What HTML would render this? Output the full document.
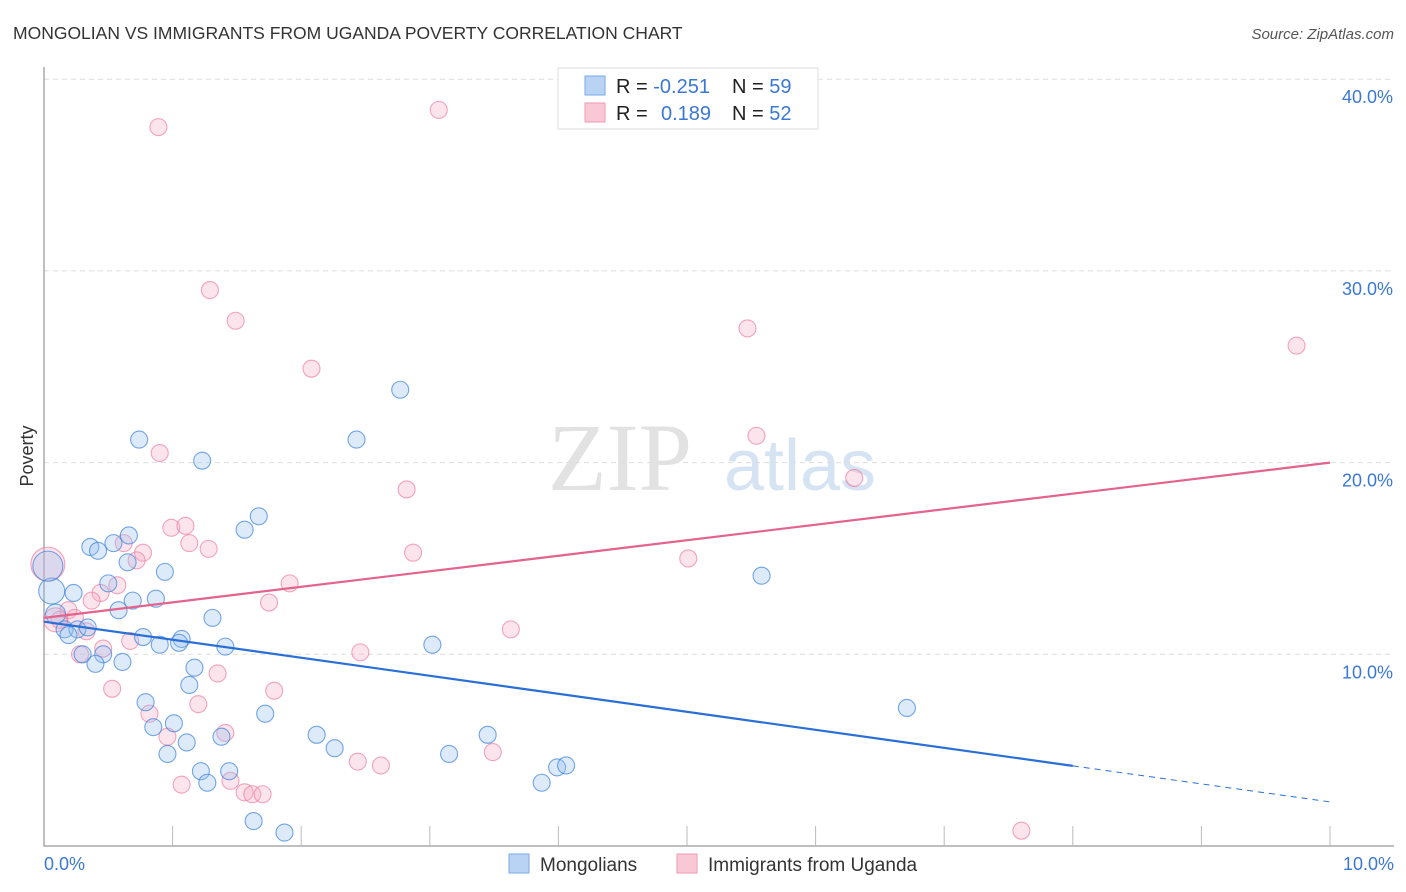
<!DOCTYPE html>
<html><head><meta charset="utf-8"><style>
body{margin:0;background:#fff;font-family:"Liberation Sans",sans-serif}
svg{display:block}
</style></head><body>
<svg id="chart" width="1406" height="892">
<text x="13" y="39" font-size="17.5" fill="#333">MONGOLIAN VS IMMIGRANTS FROM UGANDA POVERTY CORRELATION CHART</text>
<text x="1394" y="39" font-size="15" fill="#555" font-style="italic" text-anchor="end">Source: ZipAtlas.com</text>
<text x="620" y="490" font-size="96" fill="#e2e2e2" font-family="Liberation Serif,serif" text-anchor="middle">ZIP</text>
<text x="800" y="490" font-size="72" fill="#d6e3f3" text-anchor="middle">atlas</text>
<g id="grid"></g><g id="marks"></g><g id="lines"></g>
<text x="33" y="456" font-size="18" fill="#333" text-anchor="middle" transform="rotate(-90 33 456)">Poverty</text>
<text x="44" y="870" font-size="18" fill="#3b78d4">0.0%</text>
<text x="1394" y="870" font-size="18" fill="#3b78d4" text-anchor="end">10.0%</text>
<g>
<rect x="558" y="68" width="260" height="61" fill="#fff" stroke="#ddd"/>
<rect x="585" y="76" width="20" height="19" fill="#b9d3f5" stroke="#7aa8e8"/>
<rect x="585" y="103" width="20" height="19" fill="#f9c8d6" stroke="#ee9ab3"/>
<text x="616" y="93" font-size="20" fill="#222">R = <tspan fill="#3b78d4">-0.251</tspan><tspan x="732">N = </tspan><tspan fill="#3b78d4">59</tspan></text>
<text x="616" y="120" font-size="20" fill="#222">R = <tspan x="661" fill="#3b78d4">0.189</tspan><tspan x="732">N = </tspan><tspan fill="#3b78d4">52</tspan></text>
</g>
<g>
<rect x="509" y="854" width="20" height="19" fill="#b9d3f5" stroke="#7aa8e8"/>
<text x="540" y="871" font-size="19" fill="#333">Mongolians</text>
<rect x="677" y="854" width="20" height="19" fill="#f9c8d6" stroke="#ee9ab3"/>
<text x="708" y="871" font-size="19" fill="#333">Immigrants from Uganda</text>
</g>
</svg>
<script>
const yTicks=[10,20,30,40];
const yTickLabels=["10.0%","20.0%","30.0%","40.0%"];
const blueX=[0.74,1.23,2.43,2.77,1.67,1.56,0.66,0.36,0.42,0.54,0.65,0.94,0.50,0.23,0.06,0.69,0.87,0.58,1.31,0.09,0.16,0.26,0.34,0.19,0.77,0.90,1.07,1.05,1.41,3.02,0.30,0.46,0.61,0.40,1.17,1.13,0.79,1.72,0.85,1.01,1.11,1.38,2.12,2.26,0.96,1.22,1.44,1.27,3.15,3.45,3.99,4.06,3.87,1.63,1.87,5.58,6.71,0.03];
const blueY=[21.2,20.1,21.2,23.8,17.2,16.5,16.2,15.6,15.4,15.8,14.8,14.3,13.7,13.2,13.3,12.8,12.9,12.3,11.9,12.1,11.3,11.3,11.4,11.0,10.9,10.5,10.8,10.6,10.4,10.5,10.0,10.0,9.6,9.5,9.3,8.4,7.5,6.9,6.2,6.4,5.4,5.7,5.8,5.1,4.8,3.9,3.9,3.3,4.8,5.8,4.1,4.2,3.3,1.3,0.7,14.1,7.2,14.6];
const blueR=[8.5,8.5,8.5,8.5,8.5,8.5,8.5,8.5,8.5,8.5,8.5,8.5,8.5,8.5,13,8.5,8.5,8.5,8.5,10,8.5,8.5,8.5,8.5,8.5,8.5,8.5,8.5,8.5,8.5,8.5,8.5,8.5,8.5,8.5,8.5,8.5,8.5,8.5,8.5,8.5,8.5,8.5,8.5,8.5,8.5,8.5,8.5,8.5,8.5,8.5,8.5,8.5,8.5,8.5,8.5,8.5,15];
const pinkX=[0.89,3.07,1.29,1.49,2.08,5.47,9.74,5.54,0.90,2.82,6.30,0.99,1.10,1.13,1.28,0.77,0.72,0.62,2.87,5.01,0.03,0.57,1.91,0.44,0.37,1.75,0.19,0.12,0.24,0.33,3.63,0.67,0.46,0.28,2.46,1.35,0.53,1.79,1.20,0.82,0.96,1.41,2.44,2.62,3.49,1.07,1.45,1.56,1.62,1.70,7.60,0.09];
const pinkY=[37.5,38.4,29.0,27.4,24.9,27.0,26.1,21.4,20.5,18.6,19.2,16.6,16.7,15.8,15.5,15.3,14.9,15.8,15.3,15.0,14.7,13.6,13.7,13.2,12.8,12.7,12.3,11.8,11.9,11.2,11.3,10.7,10.3,10.0,10.1,9.0,8.2,8.1,7.4,6.9,5.7,5.9,4.4,4.2,4.9,3.2,3.4,2.8,2.7,2.7,0.8,11.8];
const pinkR=[8.5,8.5,8.5,8.5,8.5,8.5,8.5,8.5,8.5,8.5,8.5,8.5,8.5,8.5,8.5,8.5,8.5,8.5,8.5,8.5,17,8.5,8.5,8.5,8.5,8.5,8.5,8.5,8.5,8.5,8.5,8.5,8.5,8.5,8.5,8.5,8.5,8.5,8.5,8.5,8.5,8.5,8.5,8.5,8.5,8.5,8.5,8.5,8.5,8.5,8.5,12];
const blueTrend=[11.7,2.3], blueSolidEnd=8.0, pinkTrend=[11.9,20.0];
const NS="http://www.w3.org/2000/svg";
const X=v=>44+v*128.6, Y=v=>846-v*19.17;
function mk(t,a,p){const e=document.createElementNS(NS,t);for(const k in a)e.setAttribute(k,a[k]);p.appendChild(e);return e;}
const grid=document.getElementById('grid');
yTicks.forEach((t,i)=>{
 const l=mk('line',{x1:44,x2:1394,y1:Y(t),y2:Y(t),stroke:'#ddd','stroke-dasharray':'5,4'},grid);
 
 
 const tx=mk('text',{x:1393,y:Y(t)+24,'font-size':18,fill:'#3b78d4','text-anchor':'end'},grid);
 tx.textContent=yTickLabels[i];
 
 
});
const ax=mk('path',{d:'M44,67V846H1394',fill:'none',stroke:'#aaa','stroke-width':1.5},grid);


for(let i=1;i<=10;i++){const t=mk('line',{x1:X(i),x2:X(i),y1:826,y2:846,stroke:'#bbb'},grid);
 
 }
const marks=document.getElementById('marks');
function pts(xs,ys,rs,fill,stroke,name){xs.forEach((x,i)=>{
 const c=mk('circle',{cx:X(x),cy:Y(ys[i]),r:rs[i],fill:fill,stroke:stroke,'stroke-width':1.1},marks);
 
 });}
pts(pinkX,pinkY,pinkR,'rgba(246,170,195,0.32)','rgba(236,120,155,0.65)','uganda-point');
pts(blueX,blueY,blueR,'rgba(150,190,240,0.32)','rgba(60,130,220,0.7)','mongolian-point');
const lines=document.getElementById('lines');
const by=x=>blueTrend[0]+(blueTrend[1]-blueTrend[0])*x/10;
let l1=mk('line',{x1:X(0),y1:Y(by(0)),x2:X(blueSolidEnd),y2:Y(by(blueSolidEnd)),stroke:'#2a6fd6','stroke-width':2.2},lines);


let l2=mk('line',{x1:X(blueSolidEnd),y1:Y(by(blueSolidEnd)),x2:X(10),y2:Y(by(10)),stroke:'#2a6fd6','stroke-width':1,'stroke-dasharray':'6,5'},lines);


let l3=mk('line',{x1:X(0),y1:Y(pinkTrend[0]),x2:X(10),y2:Y(pinkTrend[1]),stroke:'#e4638c','stroke-width':2.2},lines);


</script>
</body></html>
